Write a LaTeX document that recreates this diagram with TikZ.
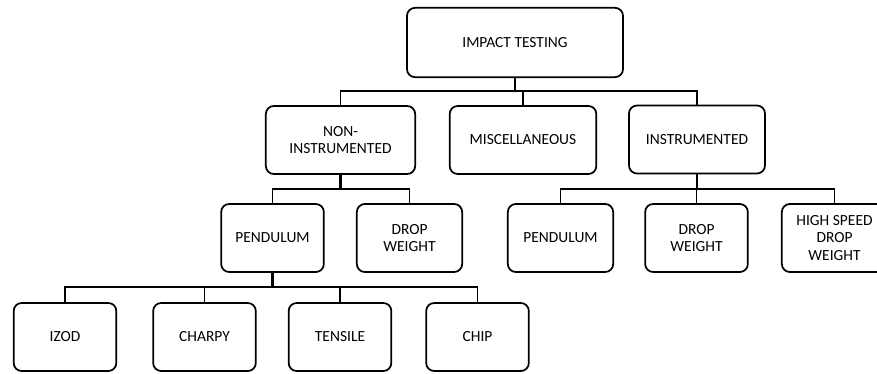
\documentclass[tikz,border=0pt]{standalone}
\usepackage{fontspec}
\setmainfont{Carlito}
\usepackage{tikz}
\usetikzlibrary{calc, positioning}

\tikzset{
    box/.style={draw, line width=1.3pt, rounded corners=6pt, align=center,
        minimum width=77pt, minimum height=51pt, inner sep=0pt, outer sep=0pt,
        font=\fontsize{11.6}{13.4}\selectfont},
    link/.style={line width=1pt},
    stem/.style={line width=2pt}
}

\begin{document}
\begin{tikzpicture}[x=0.75pt, y=-0.75pt]
    \useasboundingbox (0,0) rectangle (877,374);

    % Top level
    \node[box, minimum width=162pt, minimum height=52pt] (impact) at (515,42.5) {IMPACT TESTING};

    % Second level
    \node[box, minimum width=112pt] (noninst) at (340.5,140) {NON-\\INSTRUMENTED};
    \node[box, minimum width=110pt] (misc) at (523,140) {MISCELLANEOUS};
    \node[box, minimum width=102pt] (inst) at (697,139.5) {INSTRUMENTED};

    % Third level
    \node[box] (pendA) at (272.5,238) {PENDULUM};
    \node[box, minimum width=79pt] (dropA) at (409.5,238) {DROP\\WEIGHT};
    \node[box, minimum width=79pt] (pendB) at (560.5,238) {PENDULUM};
    \node[box] (dropB) at (696.5,238) {DROP\\WEIGHT};
    \node[box, minimum width=79pt] (hsdw) at (834.5,238) {HIGH SPEED\\DROP\\WEIGHT};

    % Fourth level
    \node[box] (izod) at (65,337) {IZOD};
    \node[box] (charpy) at (204.5,337) {CHARPY};
    \node[box] (tensile) at (340,337) {TENSILE};
    \node[box] (chip) at (477.5,337) {CHIP};

    % Bus levels
    \coordinate (busA) at (0,91);
    \coordinate (busB) at (0,189);
    \coordinate (busC) at (0,287);

    % Connectors from impact testing
    \draw[stem] (impact.south) -- (impact.south |- busA);
    \draw[link] (noninst.north) |- (inst.north |- busA) -- (inst.north);
    \draw[link] (misc.north) -- (misc.north |- busA);

    % Connectors from non-instrumented
    \draw[stem] (noninst.south) -- (noninst.south |- busB);
    \draw[link] (pendA.north) |- (dropA.north |- busB) -- (dropA.north);

    % Connectors from instrumented
    \draw[stem] (inst.south) -- (inst.south |- busB);
    \draw[link] (pendB.north) |- (hsdw.north |- busB) -- (hsdw.north);
    \draw[link] (dropB.north) -- (dropB.north |- busB);

    % Connectors from pendulum
    \draw[stem] (pendA.south) -- (pendA.south |- busC);
    \draw[link] (izod.north) |- (chip.north |- busC) -- (chip.north);
    \draw[link] (charpy.north) -- (charpy.north |- busC);
    \draw[link] (tensile.north) -- (tensile.north |- busC);
\end{tikzpicture}
\end{document}
